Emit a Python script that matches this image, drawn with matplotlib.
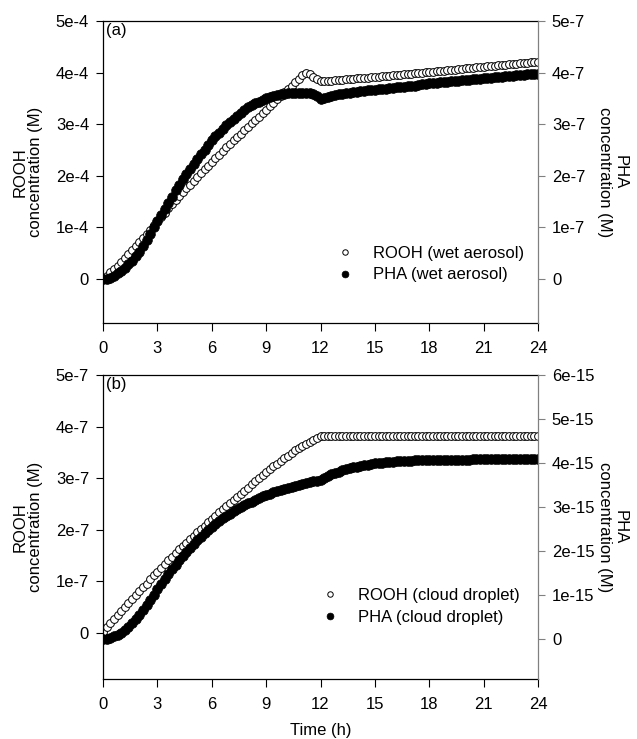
import numpy as np
import matplotlib
matplotlib.use('Agg')
import matplotlib.pyplot as plt

plt.rcParams['font.family'] = ['Liberation Sans', 'DejaVu Sans']
plt.rcParams['font.size'] = 12

# time grid (h), one sample every 0.2 h
time_h = np.linspace(0, 24, 121)
x_ticks = [0, 3, 6, 9, 12, 15, 18, 21, 24]

# ---- panel (a): wet aerosol ----
# ROOH, in units of 1e-4 M (left axis)
rooh_wet = [
    0.00, 0.06, 0.13, 0.19, 0.26,
    0.33, 0.41, 0.48, 0.56, 0.64,
    0.72, 0.80, 0.88, 0.96, 1.04,
    1.12, 1.20, 1.28, 1.37, 1.45,
    1.53, 1.61, 1.68, 1.76, 1.83,
    1.91, 1.98, 2.05, 2.13, 2.20,
    2.27, 2.34, 2.41, 2.48, 2.55,
    2.62, 2.69, 2.75, 2.82, 2.88,
    2.95, 3.02, 3.08, 3.15, 3.21,
    3.28, 3.35, 3.42, 3.48, 3.55,
    3.62, 3.69, 3.75, 3.82, 3.88,
    3.95, 4.00, 3.97, 3.92, 3.87,
    3.84, 3.83, 3.84, 3.84, 3.85,
    3.86, 3.86, 3.87, 3.87, 3.88,
    3.89, 3.89, 3.90, 3.90, 3.91,
    3.92, 3.92, 3.93, 3.93, 3.94,
    3.95, 3.95, 3.96, 3.97, 3.97,
    3.98, 3.99, 3.99, 4.00, 4.01,
    4.01, 4.02, 4.03, 4.03, 4.04,
    4.05, 4.05, 4.06, 4.07, 4.07,
    4.08, 4.09, 4.09, 4.10, 4.11,
    4.11, 4.12, 4.13, 4.13, 4.14,
    4.15, 4.15, 4.16, 4.17, 4.17,
    4.18, 4.19, 4.19, 4.20, 4.21,
    4.21,
]
# PHA, in units of 1e-7 M (right axis)
pha_wet = [
    0.00, 0.01, 0.03, 0.06, 0.11,
    0.16, 0.22, 0.29, 0.36, 0.44,
    0.52, 0.64, 0.76, 0.88, 1.00,
    1.12, 1.24, 1.36, 1.48, 1.60,
    1.72, 1.83, 1.93, 2.03, 2.13,
    2.23, 2.33, 2.42, 2.51, 2.60,
    2.69, 2.77, 2.84, 2.91, 2.98,
    3.04, 3.10, 3.16, 3.22, 3.28,
    3.33, 3.37, 3.41, 3.44, 3.47,
    3.50, 3.52, 3.54, 3.56, 3.58,
    3.59, 3.60, 3.61, 3.61, 3.61,
    3.61, 3.61, 3.60, 3.58, 3.55,
    3.48, 3.51, 3.53, 3.55, 3.56,
    3.58, 3.59, 3.60, 3.61, 3.62,
    3.63, 3.64, 3.65, 3.66, 3.67,
    3.67, 3.68, 3.69, 3.69, 3.70,
    3.71, 3.72, 3.72, 3.73, 3.74,
    3.75, 3.75, 3.76, 3.77, 3.78,
    3.79, 3.80, 3.80, 3.81, 3.82,
    3.82, 3.83, 3.84, 3.84, 3.85,
    3.86, 3.86, 3.87, 3.87, 3.88,
    3.89, 3.89, 3.90, 3.91, 3.91,
    3.92, 3.93, 3.93, 3.94, 3.95,
    3.95, 3.96, 3.97, 3.97, 3.98,
    3.98,
]

# ---- panel (b): cloud droplet ----
# ROOH, in units of 1e-7 M (left axis)
rooh_cloud = [
    0.03, 0.11, 0.19, 0.27, 0.35,
    0.43, 0.51, 0.58, 0.66, 0.73,
    0.81, 0.89, 0.96, 1.04, 1.12,
    1.19, 1.27, 1.34, 1.41, 1.48,
    1.55, 1.62, 1.68, 1.75, 1.82,
    1.88, 1.95, 2.02, 2.08, 2.15,
    2.21, 2.27, 2.34, 2.40, 2.46,
    2.52, 2.58, 2.64, 2.70, 2.76,
    2.82, 2.88, 2.94, 3.00, 3.06,
    3.12, 3.17, 3.23, 3.28, 3.34,
    3.39, 3.44, 3.49, 3.54, 3.59,
    3.63, 3.67, 3.71, 3.75, 3.78,
    3.81, 3.81, 3.81, 3.81, 3.81,
    3.81, 3.81, 3.81, 3.81, 3.81,
    3.81, 3.81, 3.81, 3.81, 3.81,
    3.81, 3.81, 3.81, 3.81, 3.81,
    3.81, 3.81, 3.81, 3.81, 3.81,
    3.81, 3.81, 3.81, 3.81, 3.81,
    3.81, 3.81, 3.81, 3.81, 3.81,
    3.81, 3.81, 3.81, 3.81, 3.81,
    3.81, 3.81, 3.81, 3.81, 3.81,
    3.81, 3.81, 3.81, 3.81, 3.81,
    3.81, 3.81, 3.81, 3.81, 3.81,
    3.81, 3.81, 3.81, 3.81, 3.81,
    3.81,
]
# PHA, in units of 1e-15 M (right axis)
pha_cloud = [
    0.00, 0.01, 0.03, 0.06, 0.09,
    0.14, 0.20, 0.28, 0.36, 0.45,
    0.55, 0.66, 0.77, 0.89, 1.01,
    1.13, 1.25, 1.36, 1.47, 1.58,
    1.69, 1.79, 1.89, 1.98, 2.07,
    2.16, 2.24, 2.32, 2.40, 2.48,
    2.55, 2.62, 2.68, 2.74, 2.80,
    2.85, 2.90, 2.95, 3.00, 3.04,
    3.08, 3.12, 3.16, 3.20, 3.24,
    3.27, 3.30, 3.33, 3.36, 3.38,
    3.41, 3.43, 3.45, 3.48, 3.50,
    3.52, 3.54, 3.56, 3.58, 3.60,
    3.61, 3.66, 3.70, 3.74, 3.77,
    3.80, 3.83, 3.86, 3.88, 3.90,
    3.92, 3.94, 3.95, 3.96, 3.98,
    3.99, 4.00, 4.01, 4.02, 4.02,
    4.03, 4.04, 4.04, 4.05, 4.05,
    4.05, 4.06, 4.06, 4.06, 4.06,
    4.06, 4.07, 4.07, 4.07, 4.07,
    4.07, 4.07, 4.07, 4.07, 4.07,
    4.07, 4.07, 4.08, 4.08, 4.08,
    4.08, 4.08, 4.08, 4.08, 4.08,
    4.08, 4.08, 4.08, 4.08, 4.08,
    4.08, 4.08, 4.08, 4.08, 4.08,
    4.08,
]

# tick labels
a_left_ticks = [0, 1e-4, 2e-4, 3e-4, 4e-4, 5e-4]
a_left_labels = ['0', '1e-4', '2e-4', '3e-4', '4e-4', '5e-4']
a_right_ticks = [0, 1e-7, 2e-7, 3e-7, 4e-7, 5e-7]
a_right_labels = ['0', '1e-7', '2e-7', '3e-7', '4e-7', '5e-7']
b_left_ticks = [0, 1e-7, 2e-7, 3e-7, 4e-7, 5e-7]
b_left_labels = ['0', '1e-7', '2e-7', '3e-7', '4e-7', '5e-7']
b_right_ticks = [0, 1e-15, 2e-15, 3e-15, 4e-15, 5e-15, 6e-15]
b_right_labels = ['0', '1e-15', '2e-15', '3e-15', '4e-15', '5e-15', '6e-15']

W, H = 637, 739
fig = plt.figure(figsize=(W / 100, H / 100), dpi=100)


def make_panel(rect, lt, ll, llim, rt, rl, rlim, rooh, pha, rscale, pscale,
               tag, lab_rooh, lab_pha, leg_xy):
    ax = fig.add_axes(rect)
    axr = ax.twinx()
    ax.plot(time_h, np.array(rooh) * rscale, linestyle='none', marker='o',
            markersize=5.6, markerfacecolor='white', markeredgecolor='black',
            markeredgewidth=0.7, label=lab_rooh)
    axr.plot(time_h, np.array(pha) * pscale, linestyle='none', marker='o',
             markersize=7.0, markerfacecolor='black', markeredgecolor='black',
             markeredgewidth=0.5, label=lab_pha)
    ax.set_xlim(0, 24)
    ax.set_xticks(x_ticks)
    ax.set_xticklabels([str(v) for v in x_ticks])
    ax.set_ylim(*llim)
    ax.set_yticks(lt)
    ax.set_yticklabels(ll)
    axr.set_ylim(*rlim)
    axr.set_yticks(rt)
    axr.set_yticklabels(rl)
    ax.spines['right'].set_visible(False)
    for s in ['left', 'top', 'bottom']:
        axr.spines[s].set_visible(False)
    axr.spines['right'].set_color('#808080')
    for s in ['left', 'top', 'bottom']:
        ax.spines[s].set_linewidth(0.9)
    axr.spines['right'].set_linewidth(0.9)
    ax.tick_params(axis='x', direction='out', length=6, pad=7, top=False,
                   width=0.8)
    ax.tick_params(axis='y', direction='out', length=5, pad=5, right=False,
                   width=0.8)
    axr.tick_params(axis='y', direction='out', length=5, pad=5,
                    color='#808080', width=0.8)
    ax.text(0.008, 0.995, tag, transform=ax.transAxes, ha='left', va='top')
    h1, l1 = ax.get_legend_handles_labels()
    h2, l2 = axr.get_legend_handles_labels()
    axr.legend(h1 + h2, l1 + l2, loc='center left', bbox_to_anchor=leg_xy,
               frameon=False, borderpad=0, borderaxespad=0, handlelength=1.0,
               handletextpad=1.2, labelspacing=0.4, markerscale=0.7)
    return ax, axr


# panel (a)
ra = [103 / W, 1 - 323 / H, 435 / W, 302 / H]
ax1, ax1r = make_panel(ra, a_left_ticks, a_left_labels, (-0.85e-4, 5e-4),
                       a_right_ticks, a_right_labels, (-0.85e-7, 5e-7),
                       rooh_wet, pha_wet, 1e-4, 1e-7, '(a)',
                       'ROOH (wet aerosol)', 'PHA (wet aerosol)',
                       (0.537, 0.195))
# panel (b)
rb = [103 / W, 1 - 679 / H, 435 / W, 304 / H]
ax2, ax2r = make_panel(rb, b_left_ticks, b_left_labels, (-0.89e-7, 5e-7),
                       b_right_ticks, b_right_labels, (-0.91e-15, 6e-15),
                       rooh_cloud, pha_cloud, 1e-7, 1e-15, '(b)',
                       'ROOH (cloud droplet)', 'PHA (cloud droplet)',
                       (0.503, 0.238))
ax2.set_xlabel('Time (h)', labelpad=8)

# y-axis titles
fig.text(28 / W, 1 - 172 / H, 'ROOH\nconcentration (M)', rotation=90,
         ha='center', va='center', multialignment='center', linespacing=1.05)
fig.text(612 / W, 1 - 172 / H, 'PHA\nconcentration (M)', rotation=270,
         ha='center', va='center', multialignment='center', linespacing=1.05)
fig.text(28 / W, 1 - 527 / H, 'ROOH\nconcentration (M)', rotation=90,
         ha='center', va='center', multialignment='center', linespacing=1.05)
fig.text(612 / W, 1 - 527 / H, 'PHA\nconcentration (M)', rotation=270,
         ha='center', va='center', multialignment='center', linespacing=1.05)

fig.savefig('out.png', dpi=100)
